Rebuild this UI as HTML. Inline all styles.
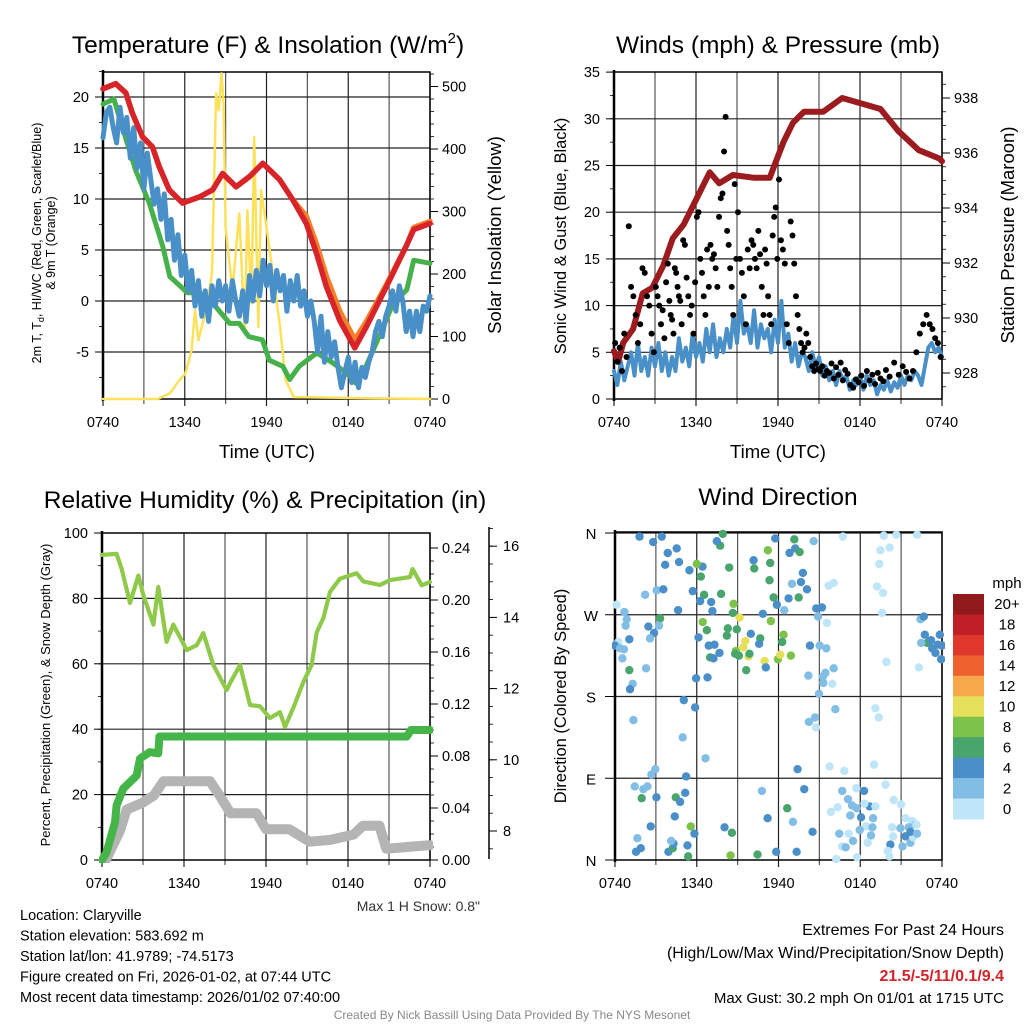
<!DOCTYPE html>
<html><head><meta charset="utf-8"><title>Claryville Mesonet Meteogram</title>
<style>
html,body{margin:0;padding:0;background:#fff;}
svg{display:block;font-family:"Liberation Sans",Arial,sans-serif;}
</style></head>
<body>
<svg id="chart" xmlns="http://www.w3.org/2000/svg" width="1024" height="1024" viewBox="0 0 1024 1024"></svg>
<script>
// ---------------- DATA ----------------
const xTickLabels = ["0740","1340","1940","0140","0740"];
// Panel 1: temperature (F)
const redTimes = [0,0.93,1.67,2.16,2.9,3.63,4.12,4.86,5.84,7.07,8.05,8.78,9.77,10.75,11.73,12.96,13.94,14.92,15.66,16.4,17.37,18.48,19.34,20.8,22.3,22.8,24];
const redTemp  = [20.8,21.3,20.4,18.4,16.1,15.1,13.2,10.9,9.6,10.2,10.9,12.5,11.2,12.2,13.5,11.9,9.9,7.6,4.7,1.4,-1.9,-4.6,-2.5,1.4,5.5,7.0,7.6];
const orangeTemp=[20.8,21.3,20.4,18.4,16.1,15.1,13.2,10.9,9.6,10.2,10.9,12.5,11.2,12.2,13.5,11.9,9.9,8.3,5.6,2.4,-1.0,-3.8,-2.0,1.6,5.5,7.2,7.8];
const greenTimes=[0,0.8,1.4,2.4,3.4,4.4,4.9,6.2,7.1,8.3,9.3,10,10.7,11.7,12.2,13.2,13.7,14.4,15.7,16.9,17.9,18.6,19.3,20.4,21.3,22.3,22.8,24];
const greenDew  =[19.3,19.8,17.1,12.8,9.6,5.3,2.4,0.8,0.8,-0.6,-2.2,-2.2,-3.5,-3.8,-5.8,-6.4,-7.7,-6.4,-5.1,-6.1,-7.1,-8.1,-6.4,-3.1,-0.2,1.1,4.0,3.7];
const blueChill = [16,18.5,19,17,15.5,19,16.5,18,14,17,13,15.5,11,14.5,12,9.5,11,8,10.5,6,8,4,6.5,2.5,4.5,
 1,3,-0.5,2,-1.5,1,-2,1.5,-0.5,2,0,1.5,
 -1,2,0,-1.5,1,-2,2.5,0,3,0.5,4,1.5,
 3.5,0,3,1,2.5,-1,2,0,2.5,-0.5,1,-1.5,
 0,-2,-5,-1.5,-6,-3,-5.5,-4,-6.5,-8.5,-7,-5.5,
 -8,-6,-8.5,-6.5,-7.5,-6,-5,-3,-2,-3.5,-1.5,-0.5,
 1,-1,1.5,0,-3,-1,-3.5,-1,-3,-0.5,-1,0.5];
const solarTimes=[0,4.0,4.9,5.6,6.05,6.5,6.75,7.0,7.5,8.0,8.3,8.5,8.7,8.85,9.0,9.5,10,10.4,10.6,10.9,11.1,11.4,11.6,12.0,12.5,13.0,13.4,14,24];
const solarWm2 =[0,0,9,30,41,78,142,94,137,201,489,462,521,471,275,174,297,105,302,153,419,115,334,275,195,115,30,3,0];
const p1LeftTicks=[-5,0,5,10,15,20];
const p1RightTicks=[0,100,200,300,400,500];
// Panel 2: winds / pressure
const windSpeed=[3,1.5,4,2,3.5,5,2.5,6,3,4.5,2.5,5.5,3.5,6,3,5,2.5,4.5,3,6.5,4,5.5,3.5,7,4.5,
 6,4,7.5,5,8,4.5,6.5,5,7.5,5.5,9,6,
 10.5,7,8,6,9.5,5.5,8,6.5,7.5,5,8.5,6,
 10.5,5.5,7,4,6,3.5,5,4.5,3,5,3.5,4.5,
 2.5,3.5,2,3,1.5,3,2,2.5,1,2,1.5,2.5,
 1,2.5,1.5,2,0.5,1.5,1,2,0.8,1.8,1.2,2.5,
 1.5,2.5,2,3,2.5,1.5,3.5,5.5,6,5,5.5,4.5];
const gustByHour=[[6,4,5.5,3,7,4.5],[18.5,12,11,9,6,8],[14,13.5,11,10,7,5],[12,11,10,8,9.5,6.5,12.5,14.5],
 [10.5,9,8.5,7,14,13.5,12,11,10.5,8],[17,16.5,13,11,9,10,7,12.5],[19.5,20,15,13.5,11,9,16,12],[16.5,15,15.5,14,12,19.5,21.5,22],
 [26.5,30.2,18,16.5,14,12,9,23,15],[20,15,13.5,11,8,16,14],[17,16.5,15,14,18,15.5,12,9],[16,14.5,11,9,8,17.5,19.5,20.5,15],
 [23.5,17,16,14.5,8,6,19],[17.5,14.5,11,9,7.5,6,5,5.5],[7,6,4.5,3.5,3,3.8,3.2],[3,3.5,2.5,3,2.8,3.8],[2.2,3.4,2.6,3.9,2,3.1],
 [2.7,1.5,1.2,2.1,1.8],[2.5,1.4,3,2,2.6],[1.6,2.8,2.2,1.9,3.1],[2.4,3.9,2.6],[3.5,2.9,2.2,3],[5,7,8,9],[8,7.5,6.5,6,4.5]];
const presTimes=[0,0.3,0.67,1.4,2.1,2.8,3.6,4.3,5.1,6.1,7.0,7.7,8.7,10.2,11.4,11.7,12.4,13.1,13.9,15.3,16.7,18.1,19.5,20.8,22.3,23.8,24];
const presMb  =[928.8,928.4,929.1,929.6,930.9,931.1,931.9,932.9,933.4,934.4,935.3,934.9,935.2,935.1,935.1,935.5,936.4,937.1,937.5,937.5,938.0,937.8,937.6,936.8,936.1,935.8,935.7];
const p2LeftTicks=[0,5,10,15,20,25,30,35];
const p2RightTicks=[928,930,932,934,936,938];
// Panel 3: RH / precip / snow
const rhTimes=[0,1.07,1.44,2.05,2.66,3.02,3.76,4.12,4.73,5.22,6.2,6.93,7.41,8.15,9.12,9.49,10.1,10.83,11.56,12.29,13.02,13.39,14.0,14.73,15.34,15.71,16.2,16.68,17.41,18.63,19.12,20.34,21.07,22.54,22.73,23.39,24];
const rhPct =[93.3,93.6,89,78.6,87,81,72,83.5,66.7,72,64.2,65.7,69.4,59.6,52,55,59.6,47.4,47,43.4,45.2,40.7,46.5,54.4,59.6,69.6,74,82,86,87.7,85.2,84.1,85.6,86.5,89,84,85];
const precipTimes=[0,0.34,0.95,1.07,1.56,2.54,2.78,3.5,4.12,4.2,22.3,22.6,24];
const precipIn =[0,0.006,0.029,0.042,0.055,0.065,0.078,0.083,0.082,0.095,0.095,0.1,0.1];
const snowTimes=[0.3,1.3,1.8,3.0,3.8,4.5,6.4,7.9,8.6,9.4,11.3,12.0,13.7,15.2,16.7,18.4,19.1,20.3,20.8,22.3,24];
const snowIn  =[7.2,8.0,8.6,8.8,9.0,9.4,9.4,9.4,9.0,8.5,8.5,8.05,8.05,7.7,7.75,7.9,8.15,8.15,7.5,7.55,7.6];
const p3LeftTicks=[0,20,40,60,80,100];
const p3PrecipTicks=["0.00","0.04","0.08","0.12","0.16","0.20","0.24"];
const p3SnowTicks=[8,10,12,14,16];
// Panel 4: wind direction
const dirTimes=[1.8,2.8,3.43,3.87,4.53,4.7,3.68,5.46,6.42,6.0,6.3,7.72,7.47,7.91,8.38,10.17,10.22,11.39,11.22,11.76,13.16,12.81,13.23,13.55,14.58,16.73,19.72,20.65,22.17,19.48,20.16,19.4,13.79,13.65,12.99,14.09,11.34,15.68,16.05,19.23,19.67,2.21,3.06,3.55,5.71,6.54,7.79,12.74,13.48,11.64,11.88,12.42,6.25,7.06,7.15,4.63,8.7,8.65,9.14,10.85,11.44,14.77,15.19,14.9,15.56,19.6,22.42,0.12,0.69,0.86,0.78,3.31,3.23,2.45,2.87,2.57,1.05,0.25,0,0.37,0.66,0.54,6.44,6.74,8.28,8.21,8.94,9.97,10.66,12.37,12.27,10.58,6.13,6.88,7.3,7.67,6.98,7.23,8.87,9.41,9.56,8.82,9.8,9.87,9.09,10.98,11.07,11.96,12.13,12.91,9.63,14.31,15.02,15.51,16.05,15.44,15.26,15.29,15.95,14.97,14.19,19.92,22.3,22.66,22.74,22.91,23.03,23.2,23.28,23.52,23.69,23.84,24.0,23.94,22.47,1.05,2.28,1.3,1.1,5.95,6.79,5.05,5.88,1.35,4.97,6.64,14.23,14.68,14.75,16.17,19.11,19.36,13.4,15.75,16.83,19.01,2.96,2.67,5.22,1.45,2.08,2.38,1.96,3.04,4.46,4.78,5.15,4.39,2.62,1.64,1.54,1.89,3.92,4.24,4.29,4.12,5.56,5.83,5.32,5.37,8.04,8.58,8.48,10.46,11.2,11.83,13.33,10.78,12.64,13.06,13.89,14.5,16.68,17.1,17.4,17.71,18.28,17.74,18.69,19.11,18.3,16.34,15.85,17.27,18.06,18.94,18.42,18.89,17.96,17.15,16.46,17.47,18.79,18.55,16.66,16.93,17.76,16.24,19.85,20.46,21.0,20.34,21.32,21.81,22.05,21.56,20.95,21.32,20.41,21.68,21.88,21.1,20.21,20.02,20.14,22.12,21.68,22.17];
const dirDegrees=[356,350,356,338,343,328,325,319,323,326,312,346,351,359,322,330,321,327,341,354,353,338,343,339,351,356,357,358,358,341,344,326,316,306,304,298,308,302,305,301,294,292,297,298,296,292,293,288,289,289,281,275,285,284,274,275,282,272,267,271,263,277,278,268,261,272,265,281,273,265,258,266,258,257,250,244,243,240,236,233,232,222,262,253,255,247,254,249,244,248,240,238,245,236,237,228,223,222,230,234,241,227,224,227,225,219,212,221,226,225,209,236,236,233,211,206,202,195,194,183,203,218,212,268,248,239,240,242,233,228,237,248,236,221,239,209,211,194,188,200,201,176,168,154,135,112,152,157,146,166,167,157,100,103,98,105,100,94,92,81,78,81,68,69,69,64,74,48,37,24,9,13,9,13,18,21,37,29,16,4,36,30,5,6,46,9,9,76,57,42,78,31,76,67,60,79,76,57,59,59,62,58,53,49,47,46,37,36,33,29,29,21,27,19,15,14,3,1,83,66,61,36,46,43,39,36,35,26,26,19,25,15,17,10,4,39,31,29];
const dirSpeeds=[4,4,4,4,4,4,4,4,4,8,6,6,4,6,6,4,6,6,8,4,6,4,4,6,2,0,0,0,0,0,0,0,4,4,2,4,6,0,0,0,0,2,2,4,4,6,6,4,6,6,4,2,4,4,4,4,8,6,10,4,8,4,4,2,0,0,2,0,2,2,2,6,2,4,4,2,4,0,4,2,2,2,8,6,6,6,6,4,6,8,6,4,4,4,4,4,6,4,8,10,10,6,10,6,6,10,4,8,10,8,6,4,2,2,2,2,2,2,0,2,2,0,0,4,4,6,6,4,4,4,4,4,4,4,2,6,2,2,4,4,4,4,4,2,2,2,2,2,0,2,0,0,4,0,0,0,2,2,4,2,2,2,6,4,6,4,4,4,4,2,4,4,4,6,4,2,8,4,4,6,4,6,8,6,4,4,4,2,6,2,4,4,2,2,2,0,4,2,4,0,0,0,0,2,4,2,0,2,2,0,2,2,2,0,0,2,0,0,0,0,0,0,0,0,2,2,2,4,0,2,0,2,4,0,0,0,4,2,2];
const speedLabels=["20+","18","16","14","12","10","8","6","4","2","0"];
const speedColors=["#bfe5f8","#82bde6","#4a8fc8","#48a56c","#7cc24b","#e6df59","#f6a94a","#ef6230","#df372c","#bf1f27","#901a1c"];

// ---------------- HELPERS ----------------
const svg=document.getElementById('chart');
const NS='http://www.w3.org/2000/svg';
function mk(tag,attrs,parent){const e=document.createElementNS(NS,tag);for(const k in attrs)e.setAttribute(k,attrs[k]);(parent||svg).appendChild(e);return e;}
function txt(s,x,y,size,anchor,parent,extra){const e=mk('text',Object.assign({x:x,y:y,'font-size':size,'text-anchor':anchor||'start',fill:'#000'},extra||{}),parent);e.textContent=s;return e;}
const P1={x0:103,x1:430,y0:72,y1:399};
const P2={x0:614,x1:942,y0:72,y1:399};
const P3={x0:102,x1:430,y0:533,y1:860};
const P4={x0:615,x1:942,y0:532,y1:860};
function xT(P,t){return P.x0+t/24*(P.x1-P.x0);}
const y1L=v=>301-v*10.2, y1R=w=>399-w*0.625;
const y2L=v=>399-v*9.34, y2R=mb=>373-(mb-928)*27.5;
const y3L=v=>860-v*3.27, y3P=p=>860-p*1300, y3S=s=>831-(s-8)*35.6;
const y4=d=>860-d*327/360;
function pathD(ts,vs,P,fy){let d='';for(let i=0;i<ts.length;i++){d+=(i?'L':'M')+xT(P,ts[i]).toFixed(1)+' '+fy(vs[i]).toFixed(1);}return d;}
function evenTimes(n){const a=[];for(let i=0;i<n;i++)a.push(i*24/(n-1));return a;}
function grid(P,nh,name){
  const g=mk('g',{});
  
  
  for(let i=0;i<=8;i++){const x=P.x0+i*(P.x1-P.x0)/8;
    const l=mk('line',{x1:x,x2:x,y1:P.y0,y2:P.y1+(i%2==0?7:5),stroke:i%2?'#555':'#222','stroke-width':1.2},g);
    
    }
  nh.forEach(y=>{const l=mk('line',{x1:P.x0,x2:P.x1,y1:y,y2:y,stroke:'#222','stroke-width':1.2},g);
    
    });
  const r=mk('rect',{x:P.x0,y:P.y0,width:P.x1-P.x0,height:P.y1-P.y0,fill:'none',stroke:'#000','stroke-width':1.5},g);
  
  
  const la=mk('line',{x1:P.x0,x2:P.x0,y1:P.y0-2,y2:P.y1+2,stroke:'#000','stroke-width':2.5},g);
  
  
  xTickLabels.forEach((s,i)=>{const t=txt(s,P.x0+i*(P.x1-P.x0)/4,P.y1+28,14.5,'middle',g);
    
    });
}
function leftTicks(P,vals,fy,name,fmt,minorStep,minorMin,minorMax){
  const g=mk('g',{});
  
  
  vals.forEach(v=>{const y=fy(v);mk('line',{x1:P.x0-8,x2:P.x0,y1:y,y2:y,stroke:'#000','stroke-width':1},g);
    const t=txt(fmt?fmt(v):String(v),P.x0-14,y+5,14.5,'end',g);
    
    });
  for(let v=minorMin;v<=minorMax+1e-9;v+=minorStep){const y=fy(v);mk('line',{x1:P.x0-4,x2:P.x0,y1:y,y2:y,stroke:'#000','stroke-width':0.8},g);}
}
function rightTicks(x,vals,fy,name,labels,minorStep,minorMin,minorMax,lx){
  const g=mk('g',{});
  
  
  vals.forEach((v,i)=>{const y=fy(v);mk('line',{x1:x,x2:x+8,y1:y,y2:y,stroke:'#000','stroke-width':1},g);
    const t=txt(labels?labels[i]:String(v),lx||x+12,y+5,14.5,'start',g);
    
    });
  for(let v=minorMin;v<=minorMax+1e-9;v+=minorStep){const y=fy(v);mk('line',{x1:x,x2:x+4,y1:y,y2:y,stroke:'#000','stroke-width':0.8},g);}
}
function series(d,color,w,name,clip){const p=mk('path',{d:d,fill:'none',stroke:color,'stroke-width':w,'stroke-linejoin':'round','stroke-linecap':'round','clip-path':clip});return p;}
const defs=mk('defs',{});
[['c1',P1],['c2',P2],['c3',P3],['c4',P4]].forEach(([id,P])=>{const cp=mk('clipPath',{id:id},defs);mk('rect',{x:P.x0-3,y:P.y0-3,width:P.x1-P.x0+6,height:P.y1-P.y0+6},cp);});

// ---------------- PANEL 1 ----------------
(function(){const t=mk('text',{x:268,y:53,'font-size':24.5,'text-anchor':'middle'});
 
 
 t.innerHTML='Temperature (F) &amp; Insolation (W/m<tspan dy="-10" font-size="15">2</tspan><tspan dy="10">)</tspan>';})();
grid(P1,[y1L(-5),y1L(0),y1L(5),y1L(10),y1L(15),y1L(20)],'temperature-grid');
leftTicks(P1,p1LeftTicks,y1L,'temperature-y-axis',null,2.5,-7.5,22.5);
rightTicks(P1.x1,p1RightTicks,y1R,'insolation-y-axis',null,20,0,520);
let s;
s=series(pathD(solarTimes,solarWm2,P1,y1R),'#fde15a',2.5,'','url(#c1)');


s=series(pathD(greenTimes,greenDew,P1,y1L),'#46b04a',5,'','url(#c1)');


s=series(pathD(evenTimes(blueChill.length),blueChill,P1,y1L),'#4a90c8',5,'','url(#c1)');


s=series(pathD(redTimes,orangeTemp,P1,y1L),'#f47f2a',5.5,'','url(#c1)');


s=series(pathD(redTimes,redTemp,P1,y1L),'#d7242a',5.5,'','url(#c1)');


(function(){const t=mk('text',{x:0,y:0,'font-size':12.5,'text-anchor':'middle',transform:'translate(41,243) rotate(-90)'});
 
 
 t.innerHTML='2m T, T<tspan dy="3" font-size="9">d</tspan><tspan dy="-3">, HI/WC (Red, Green, Scarlet/Blue)</tspan>';
 const t2=txt('& 9m T (Orange)',0,0,12.5,'middle',null,{transform:'translate(55,243) rotate(-90)'});
 
 })();
s=txt('Solar Insolation (Yellow)',0,0,18.5,'middle',null,{transform:'translate(501,235) rotate(-90)'});


s=txt('Time (UTC)',267,458,18.5,'middle');



// ---------------- PANEL 2 ----------------
s=txt('Winds (mph) & Pressure (mb)',778,53,24.5,'middle');


grid(P2,[y2L(5),y2L(10),y2L(15),y2L(20),y2L(25),y2L(30)],'winds-grid');
leftTicks(P2,p2LeftTicks,y2L,'wind-y-axis',null,2.5,0,35);
rightTicks(P2.x1,p2RightTicks,y2R,'pressure-y-axis',null,0.5,927.5,938.5);
s=series(pathD(evenTimes(windSpeed.length),windSpeed,P2,y2L),'#4a90c8',4,'','url(#c2)');


s=series(pathD(presTimes,presMb,P2,y2R),'#9b1b1e',6,'','url(#c2)');


gustByHour.forEach((arr,h)=>{arr.forEach((v,j)=>{
  const t=h+(j+0.5)/arr.length;
  const c=mk('circle',{cx:xT(P2,t),cy:y2L(v),r:3,fill:'#000'});
  
  
});});
s=txt('Sonic Wind & Gust (Blue, Black)',0,0,16.5,'middle',null,{transform:'translate(566,236) rotate(-90)'});


s=txt('Station Pressure (Maroon)',0,0,18.5,'middle',null,{transform:'translate(1014,235) rotate(-90)'});


s=txt('Time (UTC)',778,458,18.5,'middle');



// ---------------- PANEL 3 ----------------
s=txt('Relative Humidity (%) & Precipitation (in)',265,508,24.5,'middle');


grid(P3,[y3L(20),y3L(40),y3L(60),y3L(80)],'humidity-grid');
leftTicks(P3,p3LeftTicks,y3L,'humidity-y-axis',null,10,0,100);
rightTicks(P3.x1,p3PrecipTicks.map(Number),y3P,'precip-y-axis',p3PrecipTicks,0.01,0,0.24);
(function(){const l=mk('line',{x1:489,x2:489,y1:527,y2:859,stroke:'#000','stroke-width':1.5});
 
 })();
rightTicks(489,p3SnowTicks,y3S,'snow-y-axis',null,0.5,7.5,16.5,503);
s=series(pathD(snowTimes,snowIn,P3,y3S),'#b4b4b4',10,'','url(#c3)');


s=series(pathD(precipTimes,precipIn,P3,y3P),'#45b54a',8,'','url(#c3)');


s=series(pathD(rhTimes,rhPct,P3,y3L),'#8ec94a',4.2,'','url(#c3)');


s=txt('Percent, Precipitation (Green), & Snow Depth (Gray)',0,0,13,'middle',null,{transform:'translate(50,695) rotate(-90)'});


s=txt('Max 1 H Snow: 0.8"',480,911,14,'end',null,{fill:'#333'});



// ---------------- PANEL 4 ----------------
s=txt('Wind Direction',778,505,24.5,'middle');


grid(P4,[y4(90),y4(180),y4(270),y4(360)],'wind-direction-grid');
[['N',0],['E',90],['S',180],['W',270],['N',360]].forEach(([l,d])=>{
  mk('line',{x1:P4.x0-10,x2:P4.x0,y1:y4(d),y2:y4(d),stroke:'#000','stroke-width':1});
  const t=txt(l,591,y4(d)+6,15,'middle');
  
  });
dirTimes.forEach((t,i)=>{
  const ci=Math.min(10,Math.floor(dirSpeeds[i]/2));
  const c=mk('circle',{cx:xT(P4,t),cy:y4(dirDegrees[i]),r:4.2,fill:speedColors[ci],'clip-path':'url(#c4)'});
  
  
});
s=txt('Direction (Colored By Speed)',0,0,16.5,'middle',null,{transform:'translate(566,696) rotate(-90)'});


// colorbar
s=txt('mph',1007,588,15,'middle');


speedLabels.forEach((lab,i)=>{
  const h=225/speedLabels.length, y=594+i*h;
  const r=mk('rect',{x:953,y:y,width:31,height:h+0.5,fill:speedColors[10-i]});
  
  
  const t=txt(lab,1007,y+h/2+5,15,'middle');
  
  
});

// ---------------- FOOTER TEXT ----------------
["Location: Claryville","Station elevation: 583.692 m","Station lat/lon: 41.9789; -74.5173","Figure created on Fri, 2026-01-02, at 07:44 UTC","Most recent data timestamp: 2026/01/02 07:40:00"].forEach((l,i)=>{
  const t=txt(l,20,920+i*20.5,14.5,'start');
  
  });
s=txt('Extremes For Past 24 Hours',1004,935,16,'end');


s=txt('(High/Low/Max Wind/Precipitation/Snow Depth)',1004,958,16,'end');


s=txt('21.5/-5/11/0.1/9.4',1004,981,16,'end',null,{fill:'#d2232a','font-weight':'bold'});


s=txt('Max Gust: 30.2 mph On 01/01 at 1715 UTC',1004,1003,15,'end');


s=txt('Created By Nick Bassill Using Data Provided By The NYS Mesonet',512,1019,12,'middle',null,{fill:'#888'});


</script>
</body></html>
